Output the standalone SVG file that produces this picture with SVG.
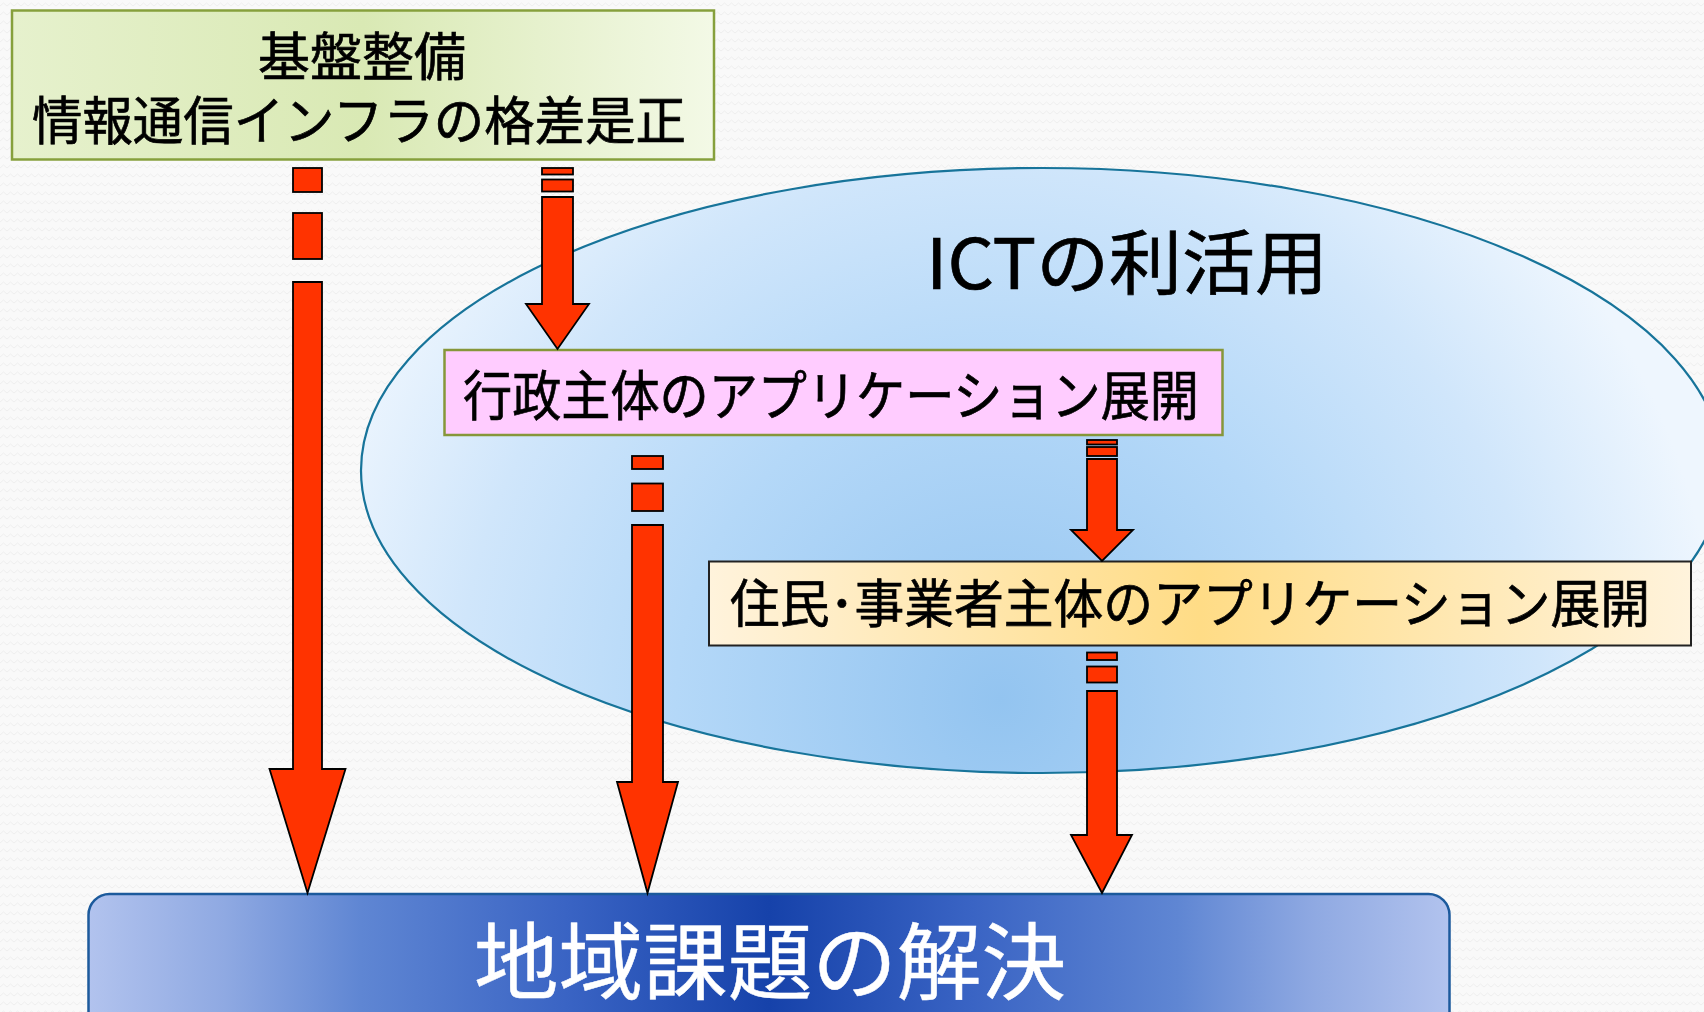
<svg xmlns="http://www.w3.org/2000/svg" width="1704" height="1012" viewBox="0 0 1704 1012">
<defs>
<pattern id="bgp" width="14" height="9" patternUnits="userSpaceOnUse">
<rect width="14" height="9" fill="#f9f9f9"/>
<path d="M0 6 L3.5 3 L7 6 L10.5 3 L14 6" fill="none" stroke="#efefef" stroke-width="1"/>
</pattern>
<linearGradient id="gTop" x1="0" y1="0" x2="1" y2="0">
<stop offset="0" stop-color="#e6f1cd"/>
<stop offset="0.5" stop-color="#d9e9b4"/>
<stop offset="1" stop-color="#f3f9e6"/>
</linearGradient>
<radialGradient id="gEll" gradientUnits="userSpaceOnUse" cx="1000" cy="700" r="720">
<stop offset="0" stop-color="#93c4f0"/>
<stop offset="0.45" stop-color="#b4d8f8"/>
<stop offset="0.75" stop-color="#d0e6fb"/>
<stop offset="1" stop-color="#eef6fe"/>
</radialGradient>
<linearGradient id="gYel" x1="0" y1="0" x2="1" y2="0">
<stop offset="0" stop-color="#fff3dc"/>
<stop offset="0.5" stop-color="#ffdc86"/>
<stop offset="1" stop-color="#fff3dc"/>
</linearGradient>
<linearGradient id="gBot" x1="0" y1="0" x2="1" y2="0">
<stop offset="0" stop-color="#b2c3ee"/>
<stop offset="0.1" stop-color="#8fa9e2"/>
<stop offset="0.2" stop-color="#5f86d3"/>
<stop offset="0.35" stop-color="#3a64c4"/>
<stop offset="0.5" stop-color="#1642aa"/>
<stop offset="0.65" stop-color="#3a64c4"/>
<stop offset="0.8" stop-color="#5f86d3"/>
<stop offset="0.9" stop-color="#8fa9e2"/>
<stop offset="1" stop-color="#b2c3ee"/>
</linearGradient>
</defs>
<style>
.t{font-family:"Noto Sans CJK JP","Noto Sans CJK SC",sans-serif;fill:#000;stroke:#000;stroke-width:0.7;text-anchor:middle}
.w{fill:#fff;stroke:#fff;stroke-width:0.5}
.arr{fill:#ff3300;stroke:#000;stroke-width:1.8;stroke-linejoin:miter}
</style>
<rect width="1704" height="1012" fill="url(#bgp)"/>

<g id="ict">
<ellipse cx="1042" cy="470.5" rx="681" ry="302.5" fill="url(#gEll)" stroke="#17749a" stroke-width="2.2"/>
<text class="t" x="1127" y="289" font-size="70" textLength="402" lengthAdjust="spacingAndGlyphs">ICTの利活用</text>
</g>

<g id="kiban">
<rect x="12" y="10.5" width="702" height="149" fill="url(#gTop)" stroke="#86a03c" stroke-width="2.5"/>
<text class="t" x="362" y="76" font-size="52" textLength="208" lengthAdjust="spacingAndGlyphs">基盤整備</text>
<text class="t" x="359" y="140" font-size="52" textLength="654" lengthAdjust="spacingAndGlyphs">情報通信インフラの格差是正</text>
</g>

<g id="gyosei">
<rect x="444.5" y="350" width="778" height="85" fill="#ffccff" stroke="#86963a" stroke-width="2.5"/>
<text class="t" x="831" y="416" font-size="54" textLength="736" lengthAdjust="spacingAndGlyphs">行政主体のアプリケーション展開</text>
</g>

<g id="jumin">
<rect x="709" y="561.5" width="982" height="84" fill="url(#gYel)" stroke="#222" stroke-width="2"/>
<text class="t" x="1190" y="623" font-size="52" textLength="920" lengthAdjust="spacingAndGlyphs">住民･事業者主体のアプリケーション展開</text>
</g>

<g id="kaiketsu">
<rect x="88.5" y="894" width="1361" height="150" rx="21" fill="url(#gBot)" stroke="#1c5a9c" stroke-width="2.5"/>
<text class="t w" x="770" y="993" font-size="84" textLength="592" lengthAdjust="spacingAndGlyphs">地域課題の解決</text>
</g>

<g id="connectors">
<g id="arrowA">
<rect class="arr" x="293" y="168" width="29" height="24"/>
<rect class="arr" x="293" y="213" width="29" height="46"/>
<polygon class="arr" points="293,282 322,282 322,769 345.5,769 307.5,893 269.5,769 293,769"/>
</g>
<g id="arrowB">
<rect class="arr" x="542" y="168" width="31" height="6.5"/>
<rect class="arr" x="542" y="179.5" width="31" height="12"/>
<polygon class="arr" points="542,197 573,197 573,304 589,304 557.5,349 526,304 542,304"/>
</g>
<g id="arrowC">
<rect class="arr" x="632" y="456" width="31" height="13"/>
<rect class="arr" x="632" y="483.5" width="31" height="27.5"/>
<polygon class="arr" points="632,525 663,525 663,782 678,782 647.5,893 617,782 632,782"/>
</g>
<g id="arrowD">
<rect class="arr" x="1087" y="440" width="30" height="4.5"/>
<rect class="arr" x="1087" y="447" width="30" height="9"/>
<polygon class="arr" points="1087,459 1117,459 1117,530 1133,530 1102,561 1071,530 1087,530"/>
</g>
<g id="arrowE">
<rect class="arr" x="1087" y="652.5" width="30" height="7.5"/>
<rect class="arr" x="1087" y="666.5" width="30" height="16"/>
<polygon class="arr" points="1087,691 1117,691 1117,835 1132,835 1102,893 1071,835 1087,835"/>
</g>
</g>
</svg>
